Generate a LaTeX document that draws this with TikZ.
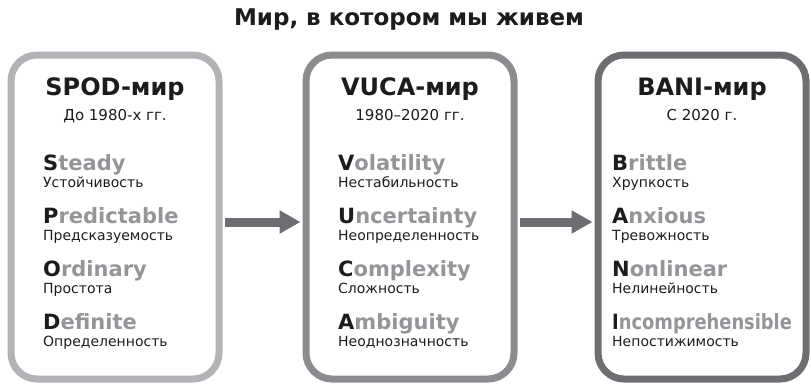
\documentclass[tikz,border=0pt]{standalone}
\usepackage{fontspec}
\setmainfont{DejaVu Sans}
\usetikzlibrary{arrows.meta}

\definecolor{edgeA}{HTML}{B1B3B6}
\definecolor{edgeB}{HTML}{8B8C8F}
\definecolor{edgeC}{HTML}{6D6E71}
\definecolor{ink}{HTML}{1C1C1C}
\definecolor{fade}{HTML}{939598}

\tikzset{
  worldbox/.style={draw, line width=7pt, rounded corners=26pt, minimum width=208pt, minimum height=324pt},
  flow/.style={draw=edgeC, line width=9pt, -{Triangle[length=21pt,width=22pt]}, shorten <=2pt, shorten >=2pt},
  boxhead/.style={font=\bfseries\fontsize{24}{24}\selectfont, text=ink, anchor=base, inner sep=0pt},
  period/.style={font=\fontsize{15}{15}\selectfont, text=ink, anchor=base, inner sep=0pt},
  word/.style={font=\bfseries\fontsize{21}{21}\selectfont, text=fade, anchor=base west, inner sep=0pt},
  gloss/.style={font=\fontsize{14}{14}\selectfont, text=ink, anchor=base west, inner sep=0pt}
}

\begin{document}
\begin{tikzpicture}[x=1pt, y=-1pt]
	\useasboundingbox (0,0) rectangle (811,386);
	\node[font=\bfseries\fontsize{23}{23}\selectfont, text=ink, anchor=base, inner sep=0pt] (title) at (409,25) {Мир, в котором мы живем};
	% the three worlds
	\node[worldbox, draw=edgeA] (spod) at (115,217) {};
	\node[worldbox, draw=edgeB] (vuca) at (410,217) {};
	\node[worldbox, draw=edgeC] (bani) at (702,217) {};
	\draw[flow] (spod.east |- 0,222) -- (vuca.west |- 0,222);
	\draw[flow] (vuca.east |- 0,222) -- (bani.west |- 0,222);
	\foreach \name/\cx/\head/\when in {spod/115/SPOD-мир/До 1980-х гг., vuca/410/VUCA-мир/1980–2020 гг., bani/702/BANI-мир/С 2020 г.} {
		\node[boxhead] (\name-head) at (\cx,95) {\head};
		\node[period] (\name-when) at (\cx,120) {\when};
	}
	\foreach \k/\first/\rest/\ru in {1/S/teady/Устойчивость, 2/P/redictable/Предсказуемость, 3/O/rdinary/Простота, 4/D/efinite/Определенность} {
		\node[word] (spod-w\k) at (43,{170+53.3*(\k-1)}) {\textcolor{ink}{\first}\rest};
		\node[gloss] (spod-g\k) at (43,{187+53.3*(\k-1)}) {\ru};
	}
	\foreach \k/\first/\rest/\ru in {1/V/olatility/Нестабильность, 2/U/ncertainty/Неопределенность, 3/C/omplexity/Сложность, 4/A/mbiguity/Неоднозначность} {
		\node[word] (vuca-w\k) at (338,{170+53.3*(\k-1)}) {\textcolor{ink}{\first}\rest};
		\node[gloss] (vuca-g\k) at (338,{187+53.3*(\k-1)}) {\ru};
	}
	\foreach \k/\first/\rest/\ru/\sq in {1/B/rittle/Хрупкость/1, 2/A/nxious/Тревожность/1, 3/N/onlinear/Нелинейность/1, 4/I/ncomprehensible/Непостижимость/0.85} {
		\node[word] (bani-w\k) at (612,{170+53.3*(\k-1)}) {\scalebox{\sq}[1]{\textcolor{ink}{\first}\rest}};
		\node[gloss] (bani-g\k) at (612,{187+53.3*(\k-1)}) {\ru};
	}
\end{tikzpicture}
\end{document}
